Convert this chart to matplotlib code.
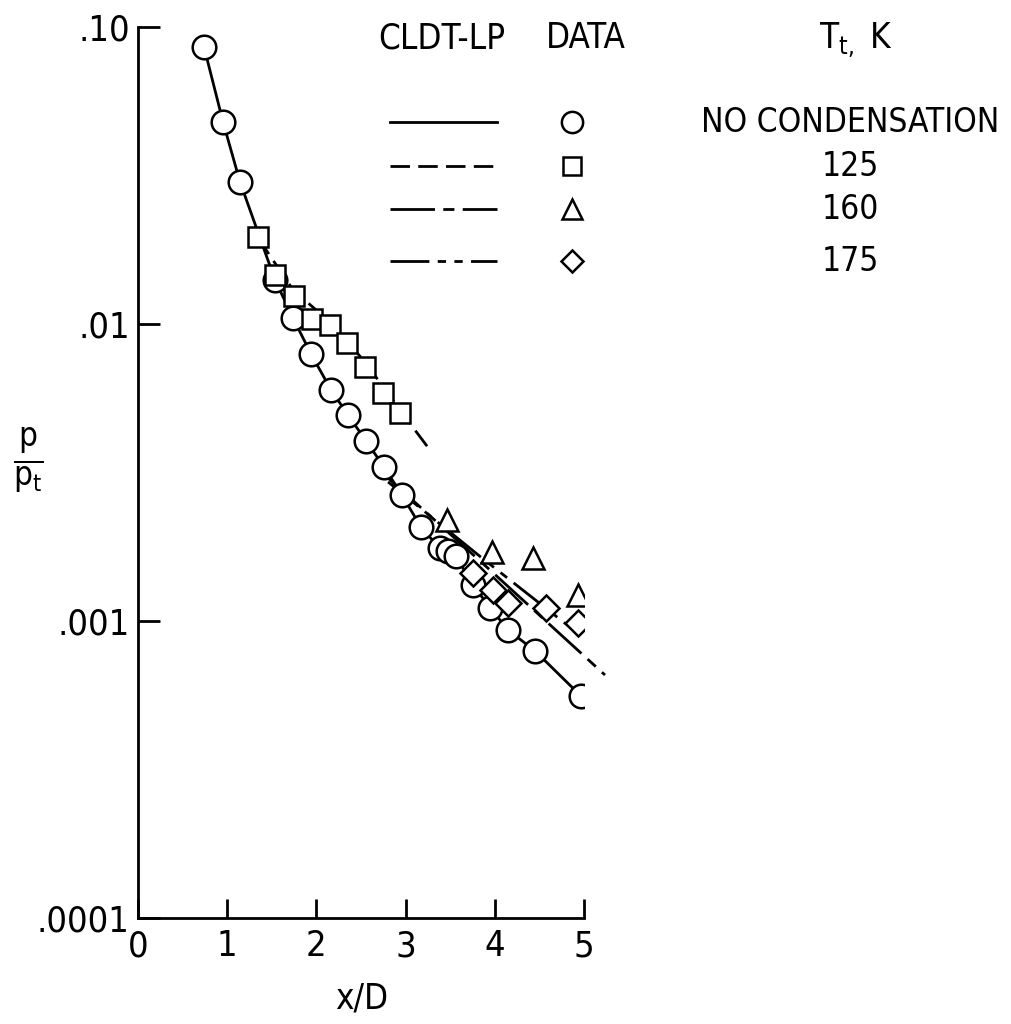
import matplotlib
matplotlib.use('Agg')
import matplotlib.pyplot as plt
from matplotlib import font_manager

# narrow font: condensed face of the installed family
names = {f.name for f in font_manager.fontManager.ttflist}
fam = 'Liberation Sans Narrow' if 'Liberation Sans Narrow' in names else 'DejaVu Sans'
plt.rcParams['font.family'] = [fam, 'DejaVu Sans']
plt.rcParams['font.stretch'] = 'condensed'
plt.rcParams['mathtext.fontset'] = 'custom'
plt.rcParams['mathtext.rm'] = fam
plt.rcParams['mathtext.it'] = fam

# no condensation data (circles) and CLDT-LP solid curve
x_nc = [0.74, 0.953, 1.143, 1.536, 1.738, 1.94, 2.164, 2.354, 2.556, 2.758, 2.96,
        3.173, 3.38, 3.47, 3.56, 3.756, 3.946, 4.148, 4.451, 4.966]
p_nc = [0.0856, 0.0479, 0.0301, 0.01406, 0.01047, 0.00792, 0.0060, 0.00494, 0.00404,
        0.0033, 0.00265, 0.00207, 0.00176, 0.00172, 0.00166, 0.00132, 0.00111,
        0.000933, 0.000793, 0.000559]

# Tt = 125 K
x_125 = [1.345, 1.536, 1.749, 1.951, 2.152, 2.343, 2.545, 2.747, 2.937]
p_125 = [0.01963, 0.01462, 0.01241, 0.0104, 0.00992, 0.00863, 0.00716, 0.00587, 0.00501]
x_125_line = [1.345, 1.738, 2.152, 2.545, 2.937, 3.274]
p_125_line = [0.0195, 0.01302, 0.01016, 0.00745, 0.00513, 0.00376]

# Tt = 160 K
x_160 = [3.464, 3.969, 4.428, 4.933]
p_160 = [0.00219, 0.00171, 0.00163, 0.00122]
x_160_line = [2.803, 3.946, 5.235]
p_160_line = [0.00303, 0.001485, 0.000658]

# Tt = 175 K
x_175 = [3.756, 3.98, 4.148, 4.574, 4.933]
p_175 = [0.00145, 0.00127, 0.00115, 0.00111, 0.000985]
x_175_line = [2.803, 3.856, 4.955]
p_175_line = [0.00294, 0.00163, 0.000897]

legend_labels = ['NO CONDENSATION', '125', '160', '175']
ytick_vals = [0.0001, 0.001, 0.01, 0.1]
ytick_labels = ['.0001', '.001', '.01', '.10']

lw = 2.0
dash_125 = (0, (7, 3))
dash_160 = (0, (16, 3, 4, 3))
dash_175 = (0, (14, 3, 3, 3, 3, 3))
mk = dict(mfc='white', mec='black', mew=1.8, ls='none', zorder=3)

fig = plt.figure(figsize=(10.12, 10.24), dpi=100)
ax = fig.add_axes([0.1364, 0.1035, 0.4407, 0.8701])

ax.plot(x_nc, p_nc, color='black', lw=lw, zorder=2)
ax.plot(x_125_line, p_125_line, color='black', lw=lw, ls=dash_125, zorder=2)
ax.plot(x_160_line, p_160_line, color='black', lw=lw, ls=dash_160, zorder=2, clip_on=False)
ax.plot(x_175_line, p_175_line, color='black', lw=lw, ls=dash_175, zorder=2)

ax.plot(x_nc, p_nc, marker='o', ms=17, **mk)
ax.plot(x_125, p_125, marker='s', ms=14, **mk)
ax.plot(x_160, p_160, marker='^', ms=16, **mk)
ax.plot(x_175, p_175, marker='D', ms=13, **mk)

ax.set_yscale('log')
ax.set_xlim(0, 5)
ax.set_ylim(1e-4, 0.1)
ax.set_yticks(ytick_vals)
ax.set_yticklabels(ytick_labels)
ax.yaxis.set_minor_locator(matplotlib.ticker.NullLocator())
ax.set_xticks([0, 1, 2, 3, 4, 5])
ax.set_xticklabels(['0', '1', '2', '3', '4', '5'])
for s in ['top', 'right']:
    ax.spines[s].set_visible(False)
for s in ['left', 'bottom']:
    ax.spines[s].set_linewidth(2)
ax.tick_params(axis='y', direction='in', length=16, width=2, labelsize=26, pad=6)
ax.tick_params(axis='x', direction='in', length=14, width=2, labelsize=26, pad=8)

fig.text(0.357, 0.025, 'x/D', fontsize=25, ha='center', va='center')
fig.text(0.028, 0.55, r'$\frac{\mathrm{p}}{\mathrm{p_t}}$', fontsize=34, ha='center', va='center')

# legend drawn by hand in axes coordinates
def ax_xy(px, py):
    return (px - 138) / 446, (918 - py) / 891

hx, hy = ax_xy(442, 38)
ax.text(hx, hy, 'CLDT-LP', transform=ax.transAxes, fontsize=25, ha='center', va='center')
hx, hy = ax_xy(586, 38)
ax.text(hx, hy, 'DATA', transform=ax.transAxes, fontsize=25, ha='center', va='center')
hx, hy = ax_xy(856, 40)
ax.text(hx, hy, r'$\mathrm{T_{t,}}$ K', transform=ax.transAxes, fontsize=25, ha='center', va='center')

rows_y = [122, 166, 209, 261]
styles = ['-', dash_125, dash_160, dash_175]
markers = [('o', 17), ('s', 14), ('^', 16), ('D', 13)]
for ry, st, (m, ms), lab in zip(rows_y, styles, markers, legend_labels):
    x0, yy = ax_xy(390, ry)
    x1, _ = ax_xy(497, ry)
    ax.plot([x0, x1], [yy, yy], transform=ax.transAxes, color='black', lw=lw, ls=st, clip_on=False)
    xm, _ = ax_xy(572, ry)
    ax.plot([xm], [yy], transform=ax.transAxes, marker=m, ms=ms * 0.9, clip_on=False,
            mfc='white', mec='black', mew=1.8, ls='none')
    xt, _ = ax_xy(850, ry)
    ax.text(xt, yy, lab, transform=ax.transAxes, fontsize=24, ha='center', va='center')

fig.savefig('out.png', dpi=100)
